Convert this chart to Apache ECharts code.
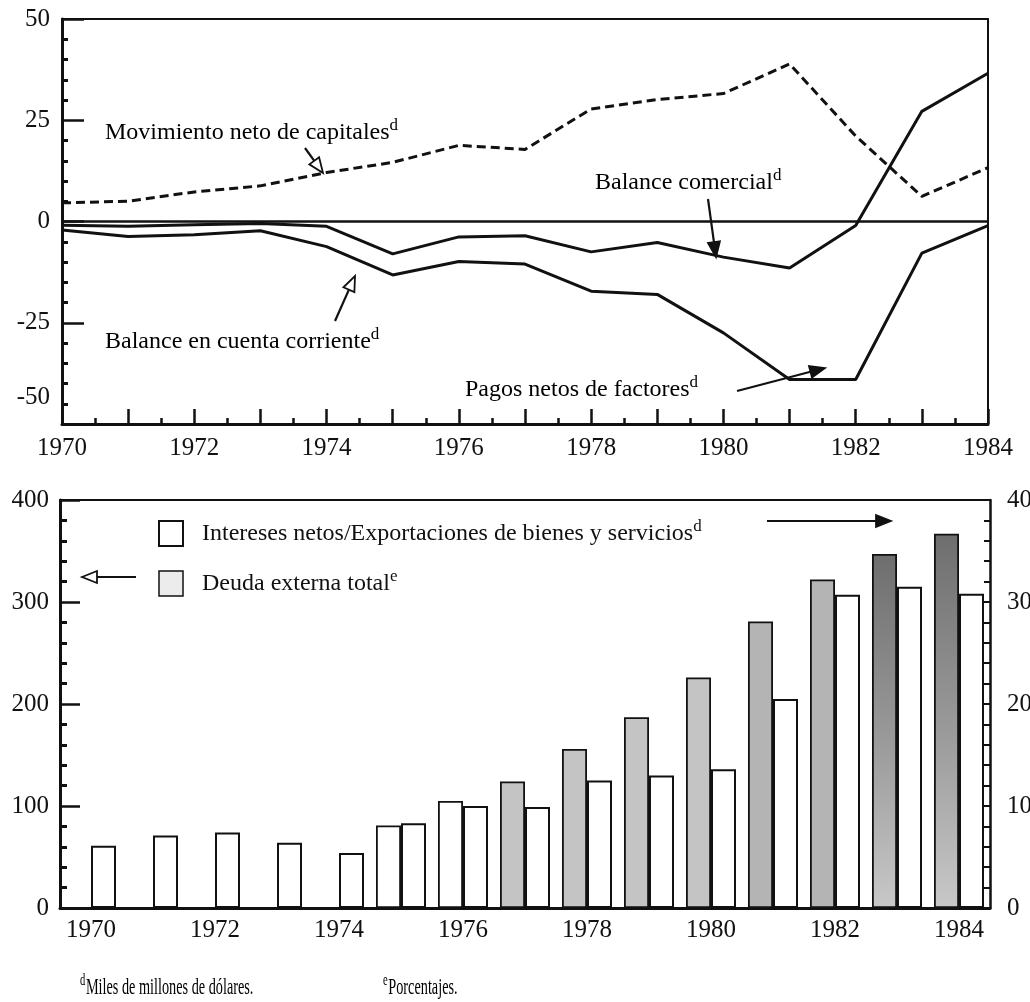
<!DOCTYPE html>
<html><head><meta charset="utf-8">
<script src="https://cdn.jsdelivr.net/npm/echarts@6/dist/echarts.min.js"></script>
<style>html,body{margin:0;padding:0;background:#fff}#c{width:1030px;height:1002px}</style>
</head><body><div id="c"></div>
<script>
// ---------- DATA ----------
const years = [1970,1971,1972,1973,1974,1975,1976,1977,1978,1979,1980,1981,1982,1983,1984];
// Top panel (miles de millones de dólares)
const movimientoCapitales = [4.6, 5.0, 7.3, 8.8, 12.1, 14.6, 18.8, 17.8, 27.8, 30.1, 31.6, 38.9, 21.1, 6.2, 13.3];
const balanceComercial    = [-0.9, -1.2, -0.8, -0.5, -1.2, -8.0, -3.8, -3.5, -7.5, -5.2, -8.8, -11.5, -1.0, 27.2, 36.6];
const cuentaCorriente     = [-2.1, -3.7, -3.3, -2.3, -6.2, -13.2, -9.9, -10.5, -17.2, -18.0, -27.5, -39.0, -39.0, -7.8, -1.0];
// Bottom panel
const deudaExterna        = [null, null, null, null, null, 81, 105, 124, 156, 187, 226, 281, 322, 347, 367];
const interesesExport     = [6.1, 7.1, 7.4, 6.4, 5.4, 8.3, 10.0, 9.9, 12.5, 13.0, 13.6, 20.5, 30.7, 31.5, 30.8];
// Tick labels
const topYTicks = [-50, -25, 0, 25, 50];
const yearLabels = years.filter(y => y % 2 === 0);

// ---------- STYLE ----------
const FONT = 'Liberation Serif';
const INK = '#111';
const sup = {fontFamily: FONT, fontSize: 17, color: INK, padding: [0, 0, 14, 0]};

function arrow(x1, y1, x2, y2, open, len, w) {
  len = len || 15; w = w || 6;
  const dx = x2 - x1, dy = y2 - y1, L = Math.hypot(dx, dy);
  const ux = dx / L, uy = dy / L, px = -uy, py = ux;
  const bx = x2 - ux * len, by = y2 - uy * len;
  return [
    {type: 'line', z: 50, shape: {x1: x1, y1: y1, x2: bx + ux * 2, y2: by + uy * 2},
     style: {stroke: INK, lineWidth: 2.2}},
    {type: 'polygon', z: 51, shape: {points: [[x2, y2], [bx + px * w, by + py * w], [bx - px * w, by - py * w]]},
     style: {fill: open ? '#fff' : INK, stroke: INK, lineWidth: 1.8}}
  ];
}
function label(x, y, main, supTxt, size) {
  size = size || 24;
  return {type: 'text', z: 60, x: x, y: y,
    style: {text: '{a|' + main + '}' + (supTxt ? '{s|' + supTxt + '}' : ''),
      verticalAlign: 'middle',
      rich: {a: {fontFamily: FONT, fontSize: size, color: INK}, s: sup}}};
}
function footnote(x, y, supTxt, main) {
  return {type: 'text', z: 60, x: x, y: y, scaleX: 0.62,
    style: {text: '{s|' + supTxt + '}{a|' + main + '}', verticalAlign: 'middle',
      rich: {a: {fontFamily: FONT, fontSize: 23, color: INK},
             s: {fontFamily: FONT, fontSize: 17, color: INK, padding: [0, 1, 14, 0]}}}};
}

const deudaData = deudaExterna.map((v, i) => {
  let color = '#c4c4c4';
  if (years[i] < 1977) color = '#ffffff';
  else if (years[i] >= 1983) color = new echarts.graphic.LinearGradient(0, 0, 0, 1, [
    {offset: 0, color: '#6e6e6e'}, {offset: 0.55, color: '#9c9c9c'}, {offset: 1, color: '#c8c8c8'}]);
  else if (years[i] >= 1981) color = '#b4b4b4';
  return {value: v == null ? '-' : v, itemStyle: {color: color}};
});

const axisFont = {fontFamily: FONT, fontSize: 25, color: INK};

const option = {
  animation: false,
  backgroundColor: '#fff',
  grid: [
    {left: 62, top: 19, width: 926, height: 405, containLabel: false, outerBoundsMode: 'none'},
    {left: 60, top: 500, width: 930, height: 408, containLabel: false, outerBoundsMode: 'none'}
  ],
  xAxis: [
    {type: 'value', gridIndex: 0, min: 1970, max: 1984, interval: 1,
     axisLine: {onZero: false, lineStyle: {color: INK, width: 3}},
     axisTick: {inside: true, length: 15, lineStyle: {color: INK, width: 2.5}},
     minorTick: {show: true, splitNumber: 2, length: 6, lineStyle: {color: INK, width: 2.5}},
     splitLine: {show: false},
     axisLabel: Object.assign({margin: 12, showMinLabel: true, showMaxLabel: true,
       formatter: v => yearLabels.indexOf(v) >= 0 ? String(v) : ''}, axisFont)},
    {type: 'value', gridIndex: 0, position: 'top', min: 1970, max: 1984,
     axisLine: {show: true, onZero: false, lineStyle: {color: INK, width: 2}},
     axisTick: {show: false}, axisLabel: {show: false}, splitLine: {show: false}},
    {type: 'category', gridIndex: 1, data: years,
     axisLine: {onZero: false, lineStyle: {color: INK, width: 3}},
     axisTick: {show: false},
     axisLabel: Object.assign({margin: 10, interval: 1}, axisFont)},
    {type: 'category', gridIndex: 1, position: 'top', data: years,
     axisLine: {show: true, onZero: false, lineStyle: {color: INK, width: 2}},
     axisTick: {show: false}, axisLabel: {show: false}}
  ],
  yAxis: [
    {type: 'value', gridIndex: 0, min: -50, max: 50, interval: 25,
     axisLine: {show: true, onZero: false, lineStyle: {color: INK, width: 3}},
     axisTick: {show: true, inside: true, length: 22, lineStyle: {color: INK, width: 2.5}},
     minorTick: {show: true, splitNumber: 5, length: 6, lineStyle: {color: INK, width: 3}},
     splitLine: {show: false},
     axisLabel: Object.assign({margin: 12,
       formatter: v => topYTicks.indexOf(v) < 0 ? '' : (v === -50 ? '{low|-50}' : String(v)),
       rich: {low: {fontFamily: FONT, fontSize: 25, color: INK, padding: [0, 0, 54, 0]}}}, axisFont)},
    {type: 'value', gridIndex: 0, position: 'right', min: -50, max: 50,
     axisLine: {show: true, onZero: false, lineStyle: {color: INK, width: 2}},
     axisTick: {show: false}, axisLabel: {show: false}, splitLine: {show: false}},
    {type: 'value', gridIndex: 1, min: 0, max: 400, interval: 100,
     axisLine: {show: true, onZero: false, lineStyle: {color: INK, width: 3}},
     axisTick: {show: true, inside: true, length: 20, lineStyle: {color: INK, width: 2.5}},
     minorTick: {show: true, splitNumber: 5, length: 7, lineStyle: {color: INK, width: 3}},
     splitLine: {show: false},
     axisLabel: Object.assign({margin: 11}, axisFont)},
    {type: 'value', gridIndex: 1, position: 'right', min: 0, max: 40, interval: 10,
     axisLine: {show: true, onZero: false, lineStyle: {color: INK, width: 2.5}},
     axisTick: {show: true, inside: true, length: 12, lineStyle: {color: INK, width: 2}},
     minorTick: {show: true, splitNumber: 5, length: 6, lineStyle: {color: INK, width: 2}},
     splitLine: {show: false},
     axisLabel: Object.assign({margin: 17}, axisFont)}
  ],
  legend: {
    orient: 'vertical', left: 153, top: 513, itemWidth: 24, itemHeight: 25, itemGap: 21,
    icon: 'rect', selectedMode: false,
    data: [
      {name: 'Intereses netos/Exportaciones de bienes y servicios',
       itemStyle: {color: '#fff', borderColor: INK, borderWidth: 2}},
      {name: 'Deuda externa total',
       itemStyle: {color: '#ececec', borderColor: INK, borderWidth: 1.5}}
    ],
    formatter: n => '{a|' + n + '}{s|' + (n.indexOf('Deuda') === 0 ? 'e' : 'd') + '}',
    textStyle: {rich: {a: {fontFamily: FONT, fontSize: 24, color: INK, padding: [0, 0, 0, 14]}, s: sup}}
  },
  series: [
    {name: 'Movimiento neto de capitales', type: 'line', xAxisIndex: 0, yAxisIndex: 0,
     data: years.map((y, i) => [y, movimientoCapitales[i]]), symbol: 'none',
     lineStyle: {color: INK, width: 3, type: [9, 5]},
     markLine: {silent: true, symbol: 'none', label: {show: false},
       lineStyle: {color: INK, width: 2.5, type: 'solid'}, data: [{yAxis: 0}]}},
    {name: 'Balance comercial', type: 'line', xAxisIndex: 0, yAxisIndex: 0,
     data: years.map((y, i) => [y, balanceComercial[i]]), symbol: 'none',
     lineStyle: {color: INK, width: 3}},
    {name: 'Balance en cuenta corriente', type: 'line', xAxisIndex: 0, yAxisIndex: 0,
     data: years.map((y, i) => [y, cuentaCorriente[i]]), symbol: 'none',
     lineStyle: {color: INK, width: 3}},
    {name: 'Deuda externa total', type: 'bar', xAxisIndex: 2, yAxisIndex: 2,
     barWidth: 25, barGap: '0%', data: deudaData,
     itemStyle: {borderColor: INK, borderWidth: 1.8}},
    {name: 'Intereses netos/Exportaciones de bienes y servicios', type: 'bar', xAxisIndex: 2, yAxisIndex: 3,
     barWidth: 25, barGap: '0%', data: interesesExport,
     itemStyle: {color: '#fff', borderColor: INK, borderWidth: 2}}
  ],
  graphic: [].concat(
    [label(105, 133, 'Movimiento neto de capitales', 'd'),
     label(105, 342, 'Balance en cuenta corriente', 'd'),
     label(595, 183, 'Balance comercial', 'd'),
     label(465, 390, 'Pagos netos de factores', 'd'),
     footnote(80, 988, 'd', 'Miles de millones de dólares.'),
     footnote(383, 988, 'e', 'Porcentajes.')
    ],
    arrow(305, 148, 323, 173, true),
    arrow(335, 321, 355, 276, true),
    arrow(708, 199, 716, 257, false),
    arrow(737, 391, 825, 368, false),
    arrow(767, 521, 891, 521, false),
    arrow(136, 577, 82, 577, true)
  )
};
const chart = echarts.init(document.getElementById('c'), null, {renderer: 'canvas'});
chart.setOption(option);
</script></body></html>
